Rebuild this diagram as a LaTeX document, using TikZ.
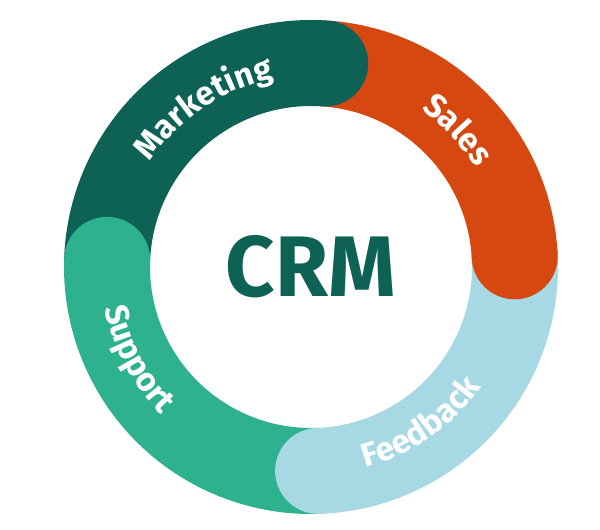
\documentclass[tikz,border=0pt]{standalone}
\usepackage{fontspec}
\setmainfont{Fira Sans}
\usetikzlibrary{decorations.text}
\definecolor{mktcol}{HTML}{0E6155}
\definecolor{salcol}{HTML}{D6480F}
\definecolor{fdbcol}{HTML}{A6D9E3}
\definecolor{supcol}{HTML}{2DB18F}
\newcommand{\lblfont}{\fontsize{33}{33}\selectfont\bfseries}
\begin{document}
\begin{tikzpicture}[x=1pt,y=1pt,
        ringpart/.style={line width=86pt},
        ringtext/.style={decorate, decoration={text along path, text align=center, text color=white}},
        ]
        \useasboundingbox (0,0) rectangle (600,530);
        \coordinate (o) at (311,263);

        % Ring parts
        \draw[ringpart, mktcol] ([shift={(178:204)}]o) arc[start angle=178, end angle=86, radius=204];
        \draw[ringpart, salcol] ([shift={(86:204)}]o) arc[start angle=86, end angle=3, radius=204];
        \draw[ringpart, fdbcol] ([shift={(3:204)}]o) arc[start angle=3, end angle=-88, radius=204];
        \draw[ringpart, supcol] ([shift={(-88:204)}]o) arc[start angle=-88, end angle=-182, radius=204];

        % Round ends
        \fill[mktcol] ([shift={(86:204)}]o) circle[radius=43];
        \fill[salcol] ([shift={(3:204)}]o) circle[radius=43];
        \fill[fdbcol] ([shift={(-88:204)}]o) circle[radius=43];
        \fill[supcol] ([shift={(178:204)}]o) circle[radius=43];

        % Labels
        \path[ringtext, decoration={text={|\lblfont|Marketing}}]
            ([shift={(168:192)}]o) arc[start angle=168, end angle=80, radius=192];
        \path[ringtext, decoration={text={|\lblfont|Sales}}]
            ([shift={(78:192)}]o) arc[start angle=78, end angle=8, radius=192];
        \path[ringtext, decoration={text={|\lblfont|Feedback}}]
            ([shift={(-100:208)}]o) arc[start angle=-100, end angle=-10, radius=208];
        \path[ringtext, decoration={text={|\lblfont|Support}}]
            ([shift={(163:210)}]o) arc[start angle=163, end angle=253, radius=210];

        % Centre
        \node[text=mktcol, font=\fontsize{86}{86}\selectfont\bfseries] (crm) at (o) {CRM};
    \end{tikzpicture}
\end{document}
